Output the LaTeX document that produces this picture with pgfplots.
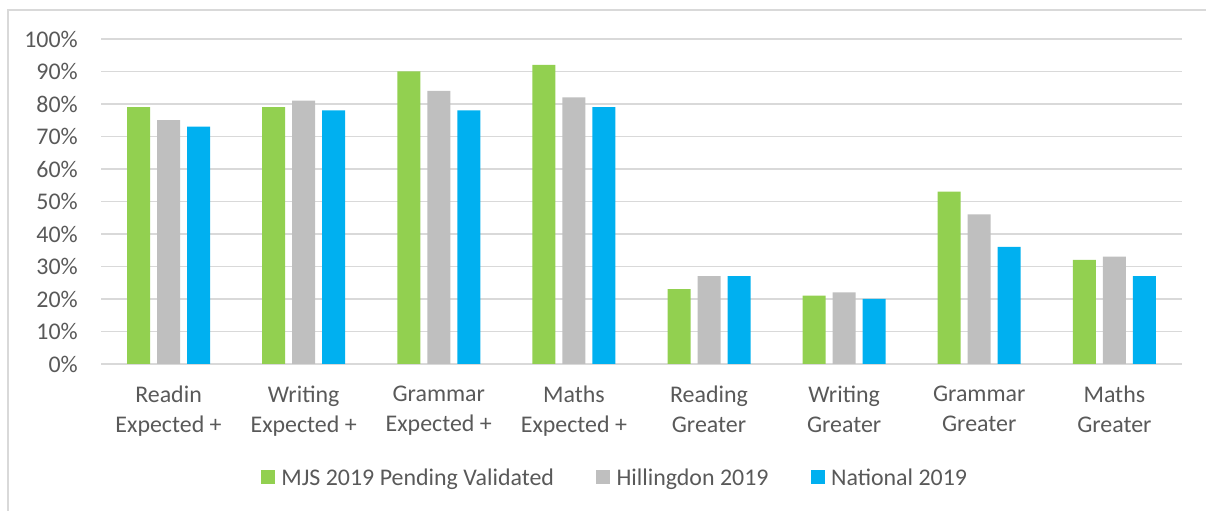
\documentclass[border=0pt]{standalone}
\usepackage{pgfplots}
\pgfplotsset{compat=1.18}
\usepackage{fontspec}
\setmainfont{Carlito}
\definecolor{mjs}{HTML}{92D050}
\definecolor{hil}{HTML}{BFBFBF}
\definecolor{nat}{HTML}{00B0F0}
\definecolor{txt}{HTML}{595959}
\definecolor{grd}{HTML}{D9D9D9}
\begin{document}
\begin{tikzpicture}
\useasboundingbox (0,0) rectangle (1206bp,511bp);
\draw[grd, line width=1.3bp] (8bp,0) -- (8bp,501bp) -- (1206bp,501bp);
\begin{axis}[
  at={(101bp,147bp)}, anchor=south west,
  scale only axis, width=1081bp, height=325bp,
  ybar=7bp, bar width=23bp,
  xmin=-0.5, xmax=7.5, ymin=0, ymax=100,
  xtick={0,1,2,3,4,5,6,7},
  xticklabels={{Readin\\Expected +},{Writing\\Expected +},{Grammar\\Expected +},{Maths\\Expected +},{Reading\\Greater},{Writing\\Greater},{Grammar\\Greater},{Maths\\Greater}},
  ytick={0,10,20,30,40,50,60,70,80,90,100},
  yticklabels={0\%,10\%,20\%,30\%,40\%,50\%,60\%,70\%,80\%,90\%,100\%},
  major tick length=0pt,
  axis line style={draw=none},
  ymajorgrids, grid style={grd, line width=1.3bp},
  tick label style={font=\fontsize{24}{29.5}\selectfont, text=txt, inner sep=0pt},
  yticklabel style={anchor=east, xshift=-23bp},
  xticklabel style={anchor=north, align=center, yshift=-22bp},
  legend columns=-1,
  legend style={at={(0.4746,-0.3508)}, anchor=center, draw=none, fill=none, inner sep=0pt,
    font=\fontsize{24}{29.5}\selectfont, text=txt, nodes={inner sep=0pt},
    /tikz/every even column/.append style={column sep=42bp},
    /tikz/every odd column/.append style={column sep=6.5bp}},
  legend image code/.code={\fill[#1] (0bp,-5.5bp) rectangle (14bp,8.5bp);},
]
\addplot[fill=mjs, draw=none] coordinates {(0,79) (1,79) (2,90) (3,92) (4,23) (5,21) (6,53) (7,32)};
\addplot[fill=hil, draw=none] coordinates {(0,75) (1,81) (2,84) (3,82) (4,27) (5,22) (6,46) (7,33)};
\addplot[fill=nat, draw=none] coordinates {(0,73) (1,78) (2,78) (3,79) (4,27) (5,20) (6,36) (7,27)};
\legend{MJS 2019 Pending Validated, Hillingdon 2019, National 2019}
\end{axis}
\end{tikzpicture}
\end{document}
